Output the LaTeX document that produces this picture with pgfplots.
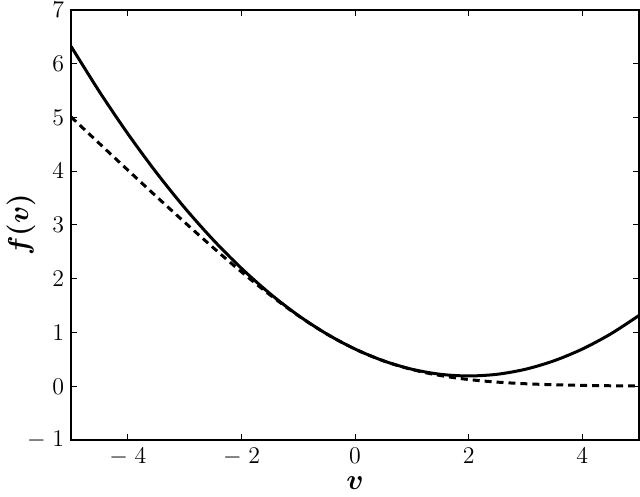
\documentclass[border=0pt]{standalone}
\usepackage{pgfplots}
\pgfplotsset{compat=1.18}
\usepackage{bm}
\begin{document}
\begin{tikzpicture}
\begin{axis}[
    scale only axis,
    width=285pt, height=216pt,
    xmin=-5, xmax=5, ymin=-1, ymax=7,
    xtick={-4,-2,0,2,4},
    xticklabels={$-\;4$,$-\;2$,$0$,$2$,$4$},
    ytick={-1,0,1,2,3,4,5,6,7},
    yticklabels={$-\;1$,$0$,$1$,$2$,$3$,$4$,$5$,$6$,$7$},
    tick label style={font=\large},
    yticklabel style={inner ysep=1pt},
    xticklabel style={inner ysep=1pt, yshift=-3pt},
    tick align=inside,
    major tick length=3pt,
    tick style={black, line width=0.5pt},
    axis line style={line width=0.9pt},
    xlabel={\Large$\bm{v}$},
    ylabel={\Large$\bm{f(v)}$},
    xlabel style={yshift=-1pt},
    ylabel style={yshift=-11pt},
]
% quadratic bound
\addplot[black, line width=1.5pt, smooth] coordinates {
(-5,6.3181) (-4.5,5.4744) (-4,4.6931) (-3.5,3.9744) (-3,3.3181) (-2.5,2.7244)
(-2,2.1931) (-1.5,1.7244) (-1,1.3181) (-0.5,0.9744) (0,0.6931) (0.5,0.4744)
(1,0.3181) (1.5,0.2244) (2,0.1931) (2.5,0.2244) (3,0.3181) (3.5,0.4744)
(4,0.6931) (4.5,0.9744) (5,1.3181)
};
% log(1+exp(-v))
\addplot[black, line width=1.5pt, dash pattern=on 3.5pt off 2.5pt, smooth] coordinates {
(-5,5.00672) (-4.75,4.75861) (-4.5,4.51104) (-4.25,4.26416) (-4,4.01815)
(-3.75,3.77324) (-3.5,3.52975) (-3.25,3.28804) (-3,3.04859) (-2.75,2.81197)
(-2.5,2.57889) (-2.25,2.35021) (-2,2.12693) (-1.75,1.91022) (-1.5,1.70141)
(-1.25,1.50195) (-1,1.31326) (-0.75,1.13687) (-0.5,0.97408) (-0.25,0.82596)
(0,0.69315) (0.25,0.57596) (0.5,0.47408) (0.75,0.38687) (1,0.31326)
(1.25,0.25195) (1.5,0.20141) (1.75,0.16022) (2,0.12693) (2.25,0.10021)
(2.5,0.07889) (2.75,0.06197) (3,0.04859) (3.25,0.03804) (3.5,0.02975)
(3.75,0.02324) (4,0.01815) (4.25,0.01416) (4.5,0.01104) (4.75,0.00861)
(5,0.00672)
};
\end{axis}
\end{tikzpicture}
\end{document}
